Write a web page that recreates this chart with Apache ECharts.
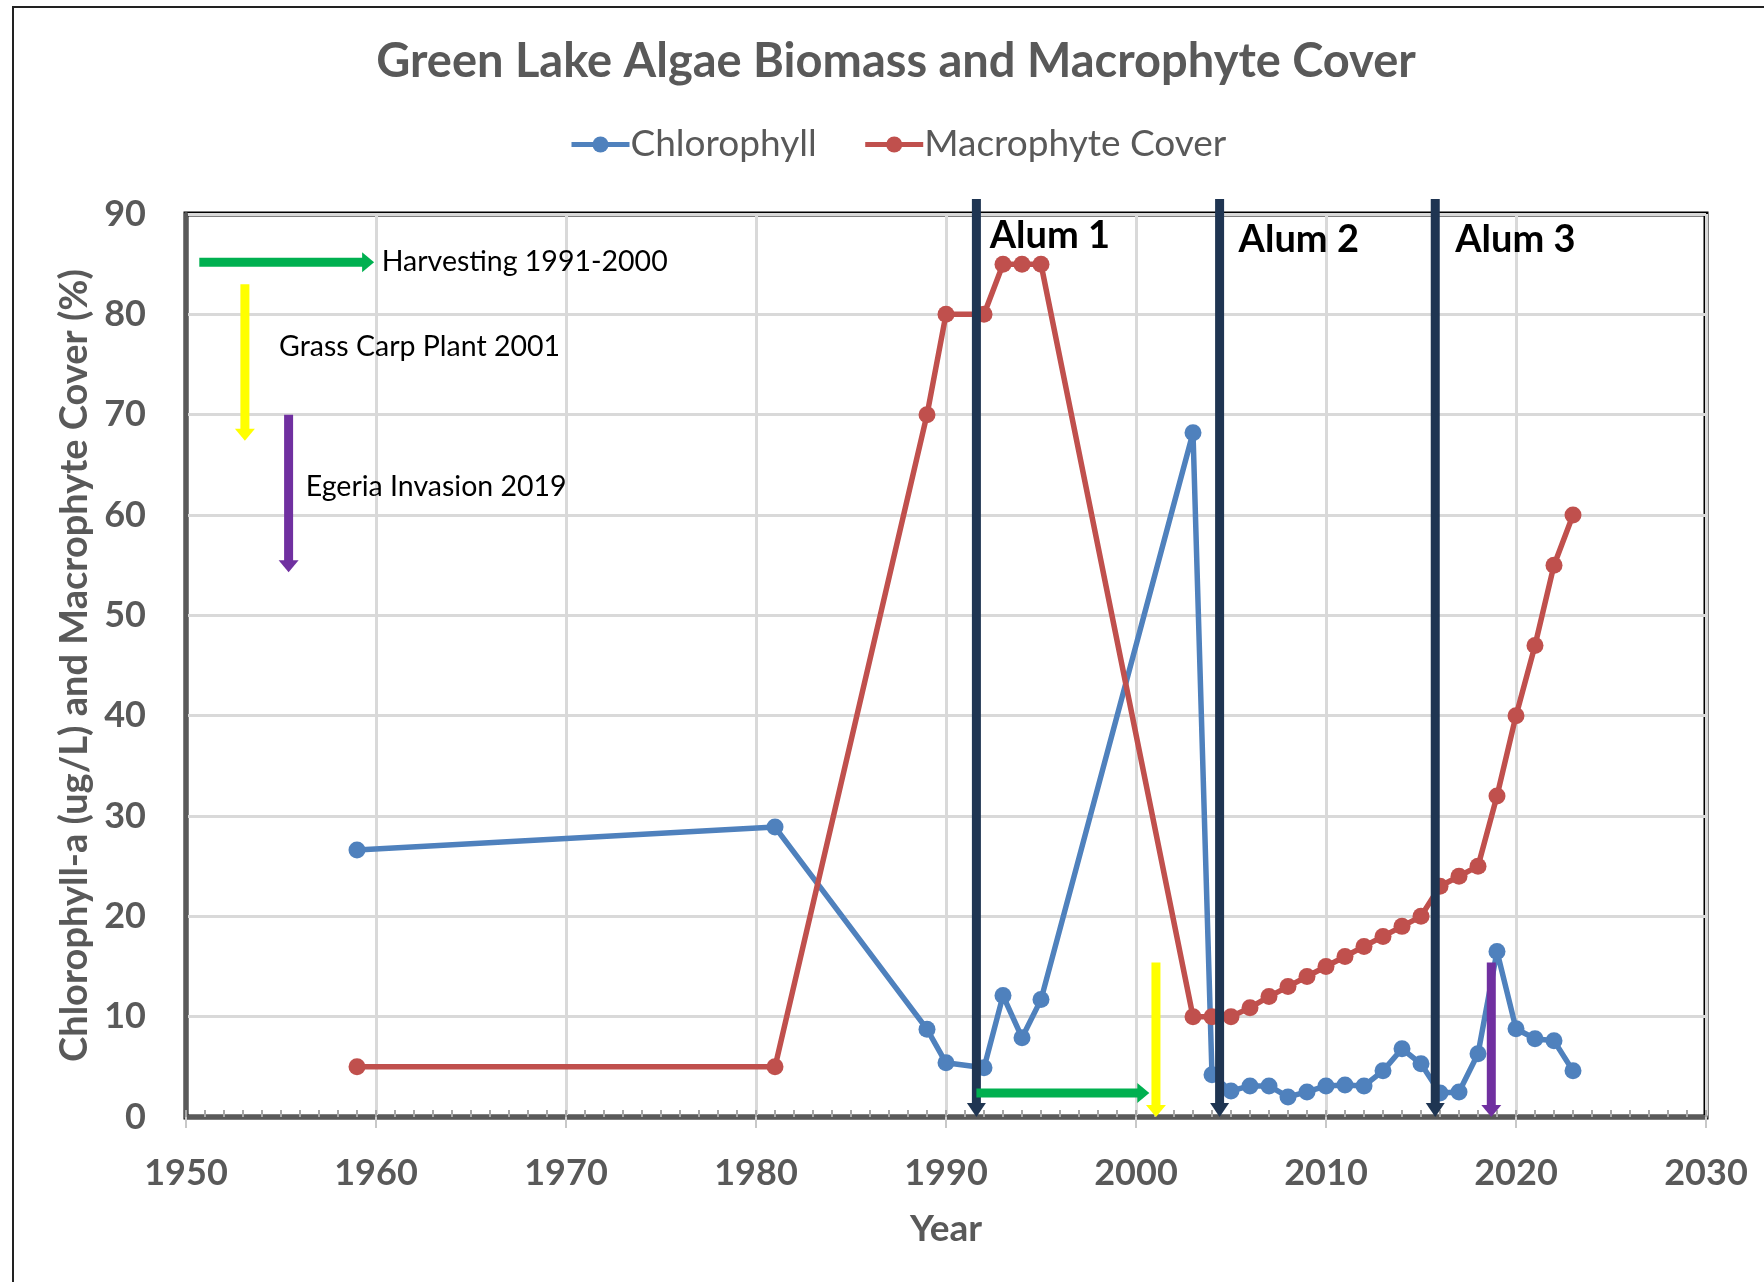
<!DOCTYPE html>
<html>
<head>
<meta charset="utf-8">
<title>Green Lake Algae Biomass and Macrophyte Cover</title>
<script src="https://cdn.jsdelivr.net/npm/echarts@6/dist/echarts.min.js"></script>
<style>
	html, body { margin: 0; padding: 0; background: #fff; }
	#chart { width: 1764px; height: 1282px; }
</style>
</head>
<body>
<div id="chart"></div>
<script>
// sample years, shared by both series
var years = [1959, 1981, 1989, 1990, 1992, 1993, 1994, 1995, 2003,
	2004, 2005, 2006, 2007, 2008, 2009, 2010, 2011, 2012, 2013,
	2014, 2015, 2016, 2017, 2018, 2019, 2020, 2021, 2022, 2023];
// Chlorophyll-a (ug/L)
var chlorophyll = [26.6, 28.9, 8.75, 5.4, 4.9, 12.1, 7.9, 11.7, 68.2,
	4.2, 2.6, 3.1, 3.1, 2.0, 2.5, 3.1, 3.2, 3.1, 4.6,
	6.8, 5.3, 2.4, 2.5, 6.3, 16.5, 8.8, 7.8, 7.6, 4.6];
// Macrophyte cover (%)
var macrophyte = [5, 5, 70, 80, 80, 85, 85, 85, 10,
	10, 10, 10.9, 12, 13, 14, 15, 16, 17, 18,
	19, 20, 23, 24, 25, 32, 40, 47, 55, 60];

var xTicks = [1950, 1960, 1970, 1980, 1990, 2000, 2010, 2020, 2030];
var yTicks = [0, 10, 20, 30, 40, 50, 60, 70, 80, 90];

// alum treatments
var alumYears = [1991.6, 2004.4, 2015.75];
var alumLabels = ['Alum 1', 'Alum 2', 'Alum 3'];
var alumLabelPos = [[1992.3, 87.8], [2005.4, 87.4], [2016.8, 87.4]];

// notes drawn on the chart (data units): x1, y1, x2, y2
var harvestArrows = [[1950.7, 85.2, 1959.9, 85.2], [1991.6, 2.4, 2000.7, 2.4]];
var carpArrows = [[1953.1, 83.0, 1953.1, 67.4], [2001.05, 15.4, 2001.05, 0]];
var egeriaArrows = [[1955.4, 70.0, 1955.4, 54.3], [2018.7, 15.4, 2018.7, 0]];
var noteTexts = ['Harvesting 1991-2000', 'Grass Carp Plant 2001', 'Egeria Invasion 2019'];
var notePos = [[1960.3, 85.2], [1954.9, 76.8], [1956.3, 62.8]];

var grey = '#595959';
var fontFam = 'Lato, "Open Sans", sans-serif';

function arrowShape(p1, p2, color, w, headW, headL) {
	var dx = p2[0] - p1[0], dy = p2[1] - p1[1];
	var len = Math.sqrt(dx * dx + dy * dy);
	var ux = dx / len, uy = dy / len;
	var bx = p2[0] - ux * headL, by = p2[1] - uy * headL;
	return [
		{
			type: 'line',
			shape: { x1: p1[0], y1: p1[1], x2: bx + ux, y2: by + uy },
			style: { stroke: color, lineWidth: w }
		},
		{
			type: 'polygon',
			shape: { points: [
				[bx - uy * headW / 2, by + ux * headW / 2],
				[bx + uy * headW / 2, by - ux * headW / 2],
				[p2[0], p2[1]]
			] },
			style: { fill: color }
		}
	];
}

function arrowSeries(list, color) {
	return {
		type: 'custom',
		clip: false,
		silent: true,
		z: 5,
		data: list,
		renderItem: function (params, api) {
			var p1 = api.coord([api.value(0), api.value(1)]);
			var p2 = api.coord([api.value(2), api.value(3)]);
			return { type: 'group', children: arrowShape(p1, p2, color, 9, 20, 12) };
		}
	};
}

var chart = echarts.init(document.getElementById('chart'));

var option = {
	backgroundColor: '#fff',
	animation: false,
	textStyle: { fontFamily: fontFam },
	title: {
		text: 'Green Lake Algae Biomass and Macrophyte Cover',
		left: 891,
		textAlign: 'center',
		top: 33,
		textStyle: { fontFamily: fontFam, fontSize: 47, fontWeight: 'bold', color: grey }
	},
	legend: {
		top: 121,
		left: 564,
		itemWidth: 58,
		itemHeight: 20,
		itemGap: 46,
		lineStyle: { width: 5 },
		textStyle: { fontFamily: fontFam, fontSize: 37, color: grey, padding: [0, 0, 0, -4] },
		data: ['Chlorophyll', 'Macrophyte Cover']
	},
	grid: {
		left: 186, right: 58, top: 214, bottom: 165,
		show: true,
		borderColor: '#000',
		borderWidth: 5
	},
	xAxis: [
		{
			type: 'value',
			min: xTicks[0],
			max: xTicks[xTicks.length - 1],
			interval: 10,
			name: 'Year',
			nameLocation: 'middle',
			nameGap: 94,
			nameTextStyle: { fontFamily: fontFam, fontSize: 37, fontWeight: 'bold', color: grey },
			axisLine: { lineStyle: { color: grey, width: 4 } },
			axisTick: { show: true, length: 11, lineStyle: { color: '#c8c8c8', width: 2 } },
			axisLabel: {
				margin: 38, fontFamily: fontFam, fontSize: 36, fontWeight: 'bold', color: grey,
				formatter: function (v) { return String(v); }
			},
			splitLine: { show: true, lineStyle: { color: '#d9d9d9', width: 3 } }
		},
		{
			type: 'value',
			min: xTicks[0],
			max: xTicks[xTicks.length - 1],
			interval: 1,
			position: 'bottom',
			axisLine: { show: false },
			axisTick: { show: true, inside: true, length: 7, lineStyle: { color: '#a6a6a6', width: 2 } },
			axisLabel: { show: false },
			splitLine: { show: false }
		}
	],
	yAxis: {
		type: 'value',
		min: yTicks[0],
		max: yTicks[yTicks.length - 1],
		interval: 10,
		name: 'Chlorophyll-a (ug/L) and Macrophyte Cover (%)',
		nameLocation: 'middle',
		nameGap: 90,
		nameTextStyle: { fontFamily: fontFam, fontSize: 38, fontWeight: 'bold', color: grey },
		axisLine: { show: true, lineStyle: { color: grey, width: 4 } },
		axisTick: { show: false },
		axisLabel: { margin: 40, fontFamily: fontFam, fontSize: 36, fontWeight: 'bold', color: grey },
		splitLine: { show: true, lineStyle: { color: '#d9d9d9', width: 3 } }
	},
	series: [
		{
			name: 'Chlorophyll',
			type: 'line',
			data: years.map(function (y, i) { return [y, chlorophyll[i]]; }),
			symbol: 'circle',
			symbolSize: 17,
			itemStyle: { color: '#4f81bd' },
			lineStyle: { color: '#4f81bd', width: 5.5 },
			z: 3
		},
		{
			name: 'Macrophyte Cover',
			type: 'line',
			data: years.map(function (y, i) { return [y, macrophyte[i]]; }),
			symbol: 'circle',
			symbolSize: 17,
			itemStyle: { color: '#c0504d' },
			lineStyle: { color: '#c0504d', width: 5.5 },
			z: 3
		},
		// alum treatment lines
		{
			type: 'custom',
			clip: false,
			silent: true,
			z: 4,
			data: alumYears.map(function (x) { return [x, 91.5]; }),
			renderItem: function (params, api) {
				var top = api.coord([api.value(0), api.value(1)]);
				var bot = api.coord([api.value(0), 0]);
				return { type: 'group', children: arrowShape(top, bot, '#1f3552', 9, 19, 14) };
			}
		},
		{
			type: 'custom',
			clip: false,
			silent: true,
			z: 6,
			data: alumLabelPos,
			renderItem: function (params, api) {
				var p = api.coord([api.value(0), api.value(1)]);
				return {
					type: 'text', x: p[0], y: p[1],
					style: {
						text: alumLabels[params.dataIndex],
						fontFamily: fontFam, fontSize: 38, fontWeight: 'bold',
						fill: '#000', align: 'left', verticalAlign: 'middle'
					}
				};
			}
		},
		arrowSeries(harvestArrows, '#00b050'),
		arrowSeries(carpArrows, '#ffff00'),
		arrowSeries(egeriaArrows, '#7030a0'),
		{
			type: 'custom',
			clip: false,
			silent: true,
			z: 6,
			data: notePos,
			renderItem: function (params, api) {
				var p = api.coord([api.value(0), api.value(1)]);
				return {
					type: 'text', x: p[0], y: p[1],
					style: {
						text: noteTexts[params.dataIndex],
						fontFamily: fontFam, fontSize: 28.5,
						fill: '#000', align: 'left', verticalAlign: 'middle'
					}
				};
			}
		}
	],
	graphic: [
		{
			type: 'rect',
			shape: { x: 13, y: 7, width: 1800, height: 1320 },
			style: { fill: 'none', stroke: '#222', lineWidth: 2 },
			silent: true
		}
	]
};

chart.setOption(option);
window.onresize = function () {
	chart.resize();
};
</script>
</body>
</html>
